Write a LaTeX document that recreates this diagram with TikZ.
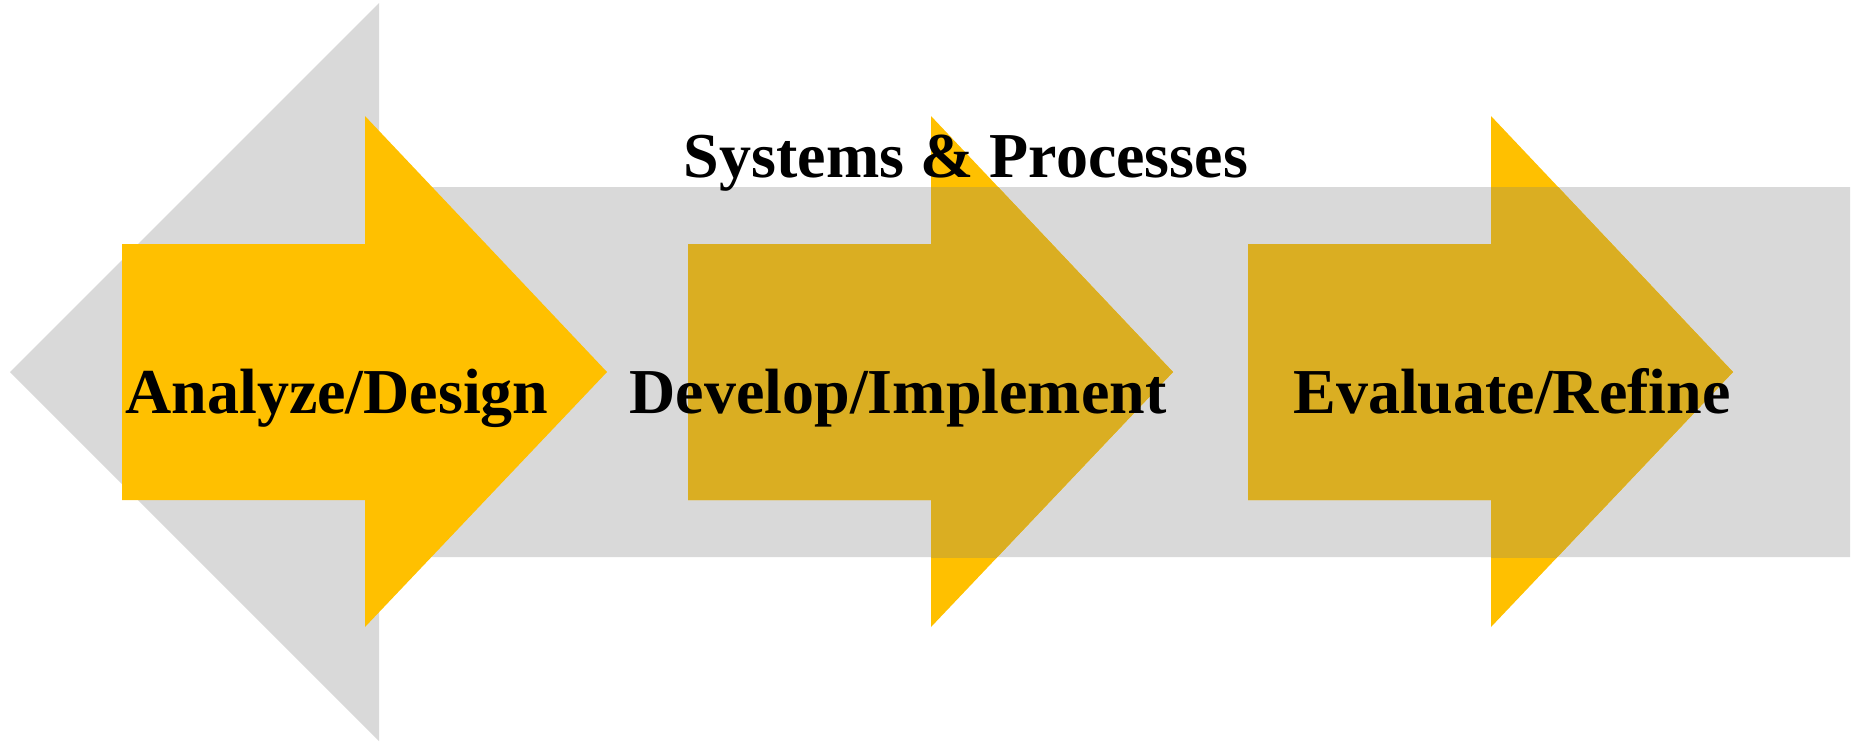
\documentclass[tikz,border=0pt]{standalone}
\usepackage{fontspec}
\setmainfont{Liberation Serif}
\usepackage{xcolor}
\usepackage{tikz}
\usetikzlibrary{positioning}

\definecolor{bandgray}{RGB}{217,217,217}
\definecolor{phaseyellow}{RGB}{255,192,0}
\definecolor{phasedark}{RGB}{218,174,34}

\begin{document}
\begin{tikzpicture}[x=0.01cm, y=-0.01cm,
    phasetext/.style={font=\bfseries\fontsize{18.2}{20}\selectfont, inner sep=0pt, anchor=base}]
  \useasboundingbox (0,0) rectangle (1856,741);

  % backdrop: wide arrow pointing back to the left
  \fill[bandgray] (10,372) -- (379,3) -- (379,187) -- (1850,187) -- (1850,557)
    -- (379,557) -- (379,741) -- cycle;

  % later phases, darker where they lie on the band
  \foreach \x in {688,1248} {
    \fill[phaseyellow] (\x,244) -- ++(243,0) -- ++(0,-128) -- ++(242,256)
      -- ++(-242,255) -- ++(0,-127) -- ++(-243,0) -- cycle;
    \begin{scope}
      \clip (379,187) rectangle (1850,557);
      \fill[phasedark] (\x,244) -- ++(243,0) -- ++(0,-128) -- ++(242,256)
        -- ++(-242,255) -- ++(0,-127) -- ++(-243,0) -- cycle;
    \end{scope}
  }

  % first phase sits on top
  \fill[phaseyellow] (122,244) -- ++(243,0) -- ++(0,-128) -- ++(242,256)
    -- ++(-242,255) -- ++(0,-127) -- ++(-243,0) -- cycle;

  % labels
  \node[phasetext] (title) at (966,177) {Systems \& Processes};
  \node[phasetext] (analyze) at (337,413) {Analyze/Design};
  \node[phasetext] (develop) at (898,413) {Develop/Implement};
  \node[phasetext] (evaluate) at (1512,413) {Evaluate/Refine};
\end{tikzpicture}
\end{document}
